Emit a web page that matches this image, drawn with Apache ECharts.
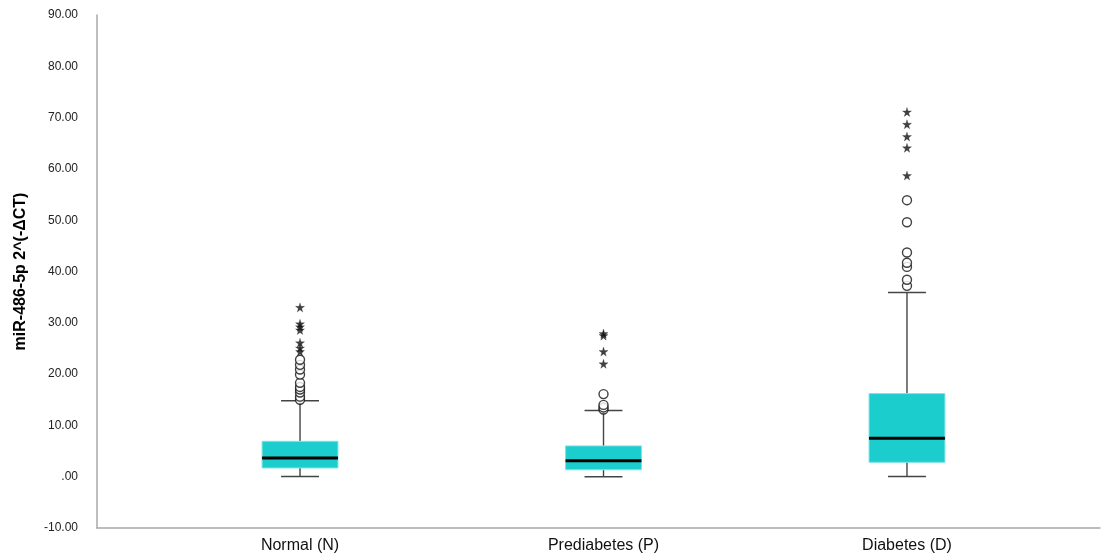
<!DOCTYPE html>
<html>
<head>
<meta charset="utf-8">
<script src="https://cdn.jsdelivr.net/npm/echarts@6/dist/echarts.min.js"></script>
<style>html,body{margin:0;padding:0;background:#fff}#c{width:1102px;height:560px}</style>
</head>
<body>
<div id="c"></div>
<script>
// Categories and box statistics: [min, Q1, median, Q3, max]
const categories = ['Normal (N)', 'Prediabetes (P)', 'Diabetes (D)'];
const boxStats = [
  [0.05, 1.7, 3.65, 6.9, 14.8],
  [0.0, 1.35, 3.1, 6.0, 12.9],
  [0.05, 2.8, 7.5, 16.2, 35.9]
];
// Outliers (circles = mild, stars = extreme)
const normalCircles = [15.0, 15.6, 16.4, 17.0, 17.5, 18.3, 19.9, 20.9, 21.8, 22.8];
const normalStars = [24.4, 25.1, 26.1, 28.6, 29.2, 29.8, 33.0];
const prediabCircles = [13.1, 13.5, 14.0, 16.1];
const prediabStars = [22.0, 24.4, 27.5, 27.9];
const diabCircles = [37.2, 38.4, 40.9, 41.7, 43.7, 49.6, 53.9];
const diabStars = [58.7, 64.1, 66.3, 68.7, 71.1];
const yTicks = { min: -10, max: 90, interval: 10 };

const circlePts = [];
[normalCircles, prediabCircles, diabCircles].forEach((arr, i) => arr.forEach(v => circlePts.push([i + 1, v])));
const starPts = [];
[normalStars, prediabStars, diabStars].forEach((arr, i) => arr.forEach(v => starPts.push([i + 1, v])));
const boxData = boxStats.map((s, i) => [i + 1].concat(s));

const STAR = 'path://M50,0 L61,35 L98,35 L68,57 L79,91 L50,70 L21,91 L32,57 L2,35 L39,35 Z';

const chart = echarts.init(document.getElementById('c'));
chart.setOption({
  animation: false,
  backgroundColor: '#fff',
  grid: { left: 97, right: 2, top: 15, bottom: 32 },
  xAxis: {
    type: 'value',
    min: 0.331,
    max: 3.636,
    splitLine: { show: false },
    axisTick: { show: false },
    axisLine: { show: true, onZero: false, lineStyle: { color: '#a8a8a8', width: 1.5 } },
    axisLabel: {
      customValues: [1, 2, 3],
      formatter: v => categories[Math.round(v) - 1] || '',
      color: '#111',
      fontSize: 16,
      fontFamily: 'Liberation Sans, Arial, sans-serif',
      margin: 10
    }
  },
  yAxis: {
    type: 'value',
    min: yTicks.min,
    max: yTicks.max,
    interval: yTicks.interval,
    name: 'miR-486-5p 2^(-ΔCT)',
    nameLocation: 'middle',
    nameGap: 68,
    nameTextStyle: { fontSize: 16, fontWeight: 'bold', color: '#000', fontFamily: 'Liberation Sans, Arial, sans-serif' },
    splitLine: { show: false },
    axisTick: { show: false },
    axisLine: { show: true, lineStyle: { color: '#a8a8a8', width: 1.5 } },
    axisLabel: {
      formatter: v => v === 0 ? '.00' : v.toFixed(2),
      color: '#222',
      fontSize: 12,
      fontFamily: 'Liberation Sans, Arial, sans-serif',
      margin: 19
    }
  },
  series: [
    {
      type: 'custom',
      data: boxData,
      z: 2,
      renderItem: function (params, api) {
        const x = api.value(0);
        const mn = api.value(1), q1 = api.value(2), md = api.value(3), q3 = api.value(4), mx = api.value(5);
        const halfBox = api.size([0.125, 0])[0];
        const halfCap = api.size([0.0625, 0])[0];
        const pMin = api.coord([x, mn]), pQ1 = api.coord([x, q1]), pMd = api.coord([x, md]);
        const pQ3 = api.coord([x, q3]), pMax = api.coord([x, mx]);
        const cx = pMin[0];
        const lineStyle = { stroke: '#444', lineWidth: 1.4, fill: null };
        return {
          type: 'group',
          children: [
            { type: 'line', shape: { x1: cx, y1: pMin[1], x2: cx, y2: pQ1[1] }, style: lineStyle },
            { type: 'line', shape: { x1: cx, y1: pQ3[1], x2: cx, y2: pMax[1] }, style: lineStyle },
            { type: 'line', shape: { x1: cx - halfCap, y1: pMin[1], x2: cx + halfCap, y2: pMin[1] }, style: lineStyle },
            { type: 'line', shape: { x1: cx - halfCap, y1: pMax[1], x2: cx + halfCap, y2: pMax[1] }, style: lineStyle },
            { type: 'rect', shape: { x: cx - halfBox, y: pQ3[1], width: 2 * halfBox, height: pQ1[1] - pQ3[1] }, style: { fill: '#1ccdcd', stroke: '#7fe3e3', lineWidth: 1 } },
            { type: 'line', shape: { x1: cx - halfBox, y1: pMd[1], x2: cx + halfBox, y2: pMd[1] }, style: { stroke: '#000', lineWidth: 3 } }
          ]
        };
      }
    },
    {
      type: 'scatter',
      data: circlePts,
      symbol: 'circle',
      symbolSize: 9,
      z: 3,
      itemStyle: { color: '#fff', borderColor: '#111', borderWidth: 1.4 }
    },
    {
      type: 'scatter',
      data: starPts,
      symbol: STAR,
      symbolSize: 9,
      z: 3,
      itemStyle: { color: '#111', borderColor: '#111', borderWidth: 0.3 }
    }
  ]
});
</script>
</body>
</html>
